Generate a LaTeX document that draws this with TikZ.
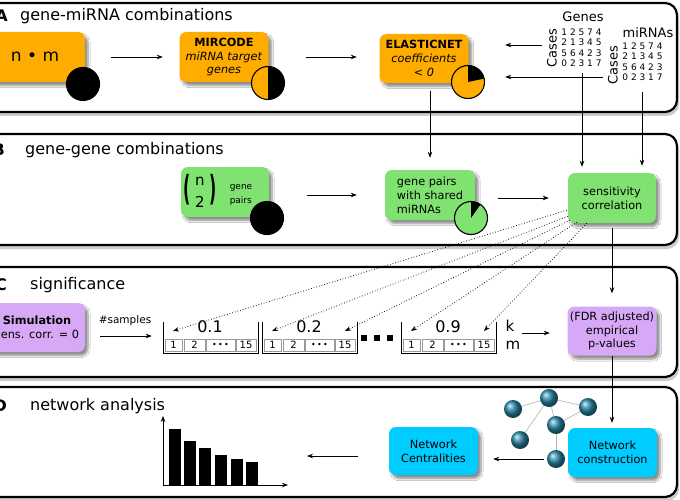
\documentclass[tikz,border=0pt]{standalone}
\usepackage{graphicx}
\usepackage{fontspec}
\setmainfont{DejaVu Sans}
\usetikzlibrary{arrows.meta,shadows.blur,calc}
\definecolor{orng}{RGB}{255,172,0}
\definecolor{grn}{RGB}{128,226,112}
\definecolor{purp}{RGB}{214,168,246}
\definecolor{cyn}{RGB}{0,204,255}
\definecolor{ballc}{RGB}{40,135,165}
\newcommand{\fs}[1]{\fontsize{#1}{#1}\selectfont}
\newcommand{\cellgrp}[3]{%
  \begin{scope}[shift={(#1,0)}]
    \draw[line width=0.8pt] (0,322) -- (0,353) -- (95,353) -- (95,322);
    \node[cellbox, minimum width=17pt] (#3c1) at (10.5,345) {1};
    \node[cellbox, minimum width=21pt] (#3c2) at (31.5,345) {2};
    \node[cellbox, minimum width=29pt] (#3c3) at (57.5,345) {\fs{8}•\,•\,•};
    \node[cellbox, minimum width=20pt] (#3c4) at (83,345) {15};
    \node[inner sep=0pt, font=\fs{16}] (#3l) at (47,327) {#2};
    \coordinate (#3a) at (10,331);
    \coordinate (#3b) at (83,331);
  \end{scope}}
\begin{document}
\begin{tikzpicture}[x=1pt,y=-1pt,
  box/.style={rounded corners=7pt, minimum width=89pt, minimum height=50pt, align=center, inner sep=1pt,
    font=\fontsize{11.3}{13.8}\selectfont,
    blur shadow={shadow xshift=3pt, shadow yshift=-3.5pt, shadow blur steps=6, shadow opacity=45}},
  obox/.style={box, fill=orng}, gbox/.style={box, fill=grn},
  pbox/.style={box, fill=purp}, cbox/.style={box, fill=cyn},
  piec/.style={circle, draw=black, line width=1.1pt, minimum size=33pt, inner sep=0pt},
  arr/.style={-{Stealth[length=6pt,width=4.5pt]}, line width=0.7pt},
  darr/.style={-{Stealth[length=6pt,width=4.5pt]}, line width=0.75pt, dotted},
  panel/.style={draw=black, line width=2.2pt, rounded corners=12pt, fill=white},
  pshadow/.style={fill=black!20, rounded corners=12pt},
  ttl/.style={anchor=west, inner sep=0pt, font=\fs{16}},
  plbl/.style={anchor=east, inner sep=0pt, font=\bfseries\fs{16}},
  cellbox/.style={draw=black!40, line width=0.5pt, minimum height=12pt, inner sep=0pt, font=\fs{10}},
  dig/.style={align=left, inner sep=0pt, font=\fontsize{9}{10.5}\selectfont},
  netball/.style={circle, shading=ball, ball color=ballc, minimum size=18pt, inner sep=0pt},
  netedge/.style={draw=black!30, line width=0.6pt},
  axis/.style={-{Stealth[length=6pt,width=4.5pt]}, line width=0.8pt},
  paren/.style={inner sep=0pt, font=\fs{15}},
]
\useasboundingbox (0,0) rectangle (680,500);
\clip (0,0) rectangle (680,500);
\fill[white] (0,0) rectangle (680,500);

% panels
\foreach \ya/\yb in {3/112, 134/245, 267/377, 387/497}{
  \fill[pshadow] (-20,\ya+4) rectangle (679,\yb+4);
  \draw[panel] (-20,\ya) rectangle (677,\yb);
}
\node[plbl] (lA) at (8,16) {A};
\node[ttl] (tA) at (20,16) {gene-miRNA combinations};
\node[plbl] (lB) at (5,150) {B};
\node[ttl] (tB) at (25,150) {gene-gene combinations};
\node[plbl] (lC) at (7,285) {C};
\node[ttl] (tC) at (30,285) {significance};
\node[plbl] (lD) at (7,406) {D};
\node[ttl] (tD) at (30,406) {network analysis};

% ---------- A ----------
\node[obox, minimum width=100pt, font=\fs{17}] (nm) at (35,57) {n • m};
\node[piec, fill=black] (c1) at (83,84) {};
\node[obox] (mir) at (224,57) {\textbf{MIRCODE}\\\textit{miRNA target}\\\textit{genes}};
\node[piec, fill=orng, path picture={\fill[black] (path picture bounding box.north) rectangle (path picture bounding box.south east);}] (c2) at (268,83) {};
\node[obox, minimum height=49pt] (ela) at (424,58.5) {\textbf{ELASTICNET}\\\textit{coefficients}\\\textit{< 0}};
\node[piec, fill=orng, path picture={\fill[black] (path picture bounding box.center) -- ++(12:20pt) arc[start angle=12, end angle=90, radius=20pt] -- cycle;}] (c3) at (468,82) {};

\node[inner sep=0pt, font=\fs{13}] (genes) at (583,17) {Genes};
\node[dig] (gmat) at (581.5,47.5) {1 2 5 7 4\\2 1 3 4 5\\5 6 4 2 3\\0 2 3 1 7};
\node[inner sep=0pt, font=\fs{13}, rotate=90] (gcases) at (552,48) {Cases};
\node[inner sep=0pt, font=\fs{13}] (mirnas) at (648,33) {miRNAs};
\node[dig] (mmat) at (642.5,61.5) {1 2 5 7 4\\2 1 3 4 5\\5 6 4 2 3\\0 2 3 1 7};
\node[inner sep=0pt, font=\fs{13}, rotate=90] (mcases) at (613,65) {Cases};

\coordinate (gA) at (542,45);
\coordinate (mA) at (603,77);
\coordinate (gB) at (582,73);
\coordinate (mB) at (642,92);

\draw[arr, shorten <=26pt, shorten >=16.5pt] (nm.east) -- (nm.east -| mir.west);
\draw[arr, shorten <=37.5pt, shorten >=22.5pt] (mir.east) -- (mir.east -| ela.west);
\draw[arr, shorten >=36.5pt] (gA) -- (gA -| ela.east);
\draw[arr, shorten >=36.5pt] (mA) -- (mA -| ela.east);

% ---------- B ----------
\node[gbox, minimum width=88pt] (n2) at (225,192) {};
\node[paren] (lp) at (187,190) {\scalebox{1.05}[2.3]{\bfseries (}};
\node[paren] (rp) at (213,190) {\scalebox{1.05}[2.3]{\bfseries )}};
\node[paren] (bn) at (200,181) {n};
\node[paren] (b2) at (200,202) {2};
\node[inner sep=0pt, align=left, font=\fontsize{9}{14.5}\selectfont] (gp) at (241,195) {gene\\pairs};
\node[piec, fill=black] (c4) at (267,218) {};
\node[gbox, minimum width=90pt, align=left] (shared) at (430,195) {gene pairs\\with shared\\miRNAs};
\node[piec, fill=grn, path picture={\fill[black] (path picture bounding box.center) -- ++(55:20pt) arc[start angle=55, end angle=90, radius=20pt] -- cycle;}] (c5) at (471,218) {};
\node[gbox, minimum width=88pt] (sens) at (612,198) {sensitivity\\correlation};

\draw[arr, shorten <=8pt, shorten >=12pt] (ela.south -| shared.north) -- (shared.north);
\draw[arr, shorten >=6pt] (gB) -- (gB |- sens.north);
\draw[arr, shorten >=7pt] (mB) -- (mB |- sens.north);
\draw[arr, shorten <=38pt, shorten >=28pt] ($(n2.east)+(0,3)$) -- ($(n2.east -| shared.west)+(0,3)$);
\draw[arr, shorten <=23pt, shorten >=19pt] (sens.west -| shared.east) -- (sens.west);

% ---------- C ----------
\node[pbox, minimum width=96pt, minimum height=49pt] (sim) at (37,327.5) {\textbf{Simulation}\\sens. corr. = 0};
\node[inner sep=0pt, font=\fs{10.5}] (samples) at (125,321) {\#samples};
\cellgrp{163}{0.1}{ga}
\cellgrp{262}{0.2}{gb}
\cellgrp{401}{0.9}{gc}
\foreach \xx in {364,377,390} \fill (\xx-2.6,335.4) rectangle (\xx+2.6,340.6);
\node[inner sep=0pt, align=left, font=\fontsize{15}{18}\selectfont] (km) at (513,335) {k\\m};
\node[pbox, minimum height=49pt] (fdr) at (612,331) {(FDR adjusted)\\empirical\\p-values};

\coordinate (simout) at (100,336);
\coordinate (kout) at (522,333);
\draw[arr, shorten >=13pt] (simout) -- (simout -| gac1.west);
\draw[arr, shorten >=17.5pt] (kout) -- (kout -| fdr.west);
\draw[arr, shorten <=5pt, shorten >=13pt] (sens.south) -- (fdr.north);

\coordinate (s1) at ($(sens.south west)+(-1,-13)$);
\coordinate (s2) at ($(sens.south west)+(0,-7)$);
\coordinate (s3) at ($(sens.south west)+(2,-3)$);
\coordinate (s4) at ($(sens.south west)+(9,-1)$);
\coordinate (s5) at ($(sens.south west)+(19,0)$);
\draw[darr] (s1) -- (gaa);
\draw[darr] (s2) -- (gba);
\draw[darr] (s3) -- (gbb);
\draw[darr] (s4) -- (gca);
\draw[darr] (s5) -- (gcb);

% ---------- D ----------
\node[cbox, minimum height=48pt] (nc) at (433.5,451) {Network\\Centralities};
\node[cbox, minimum height=49pt] (netcon) at (612.5,452.5) {Network\\construction};
\coordinate (e1) at (513,409);
\coordinate (e2) at (549,398);
\coordinate (e3) at (588,407);
\coordinate (e4) at (556,425);
\coordinate (e5) at (520,440);
\coordinate (e6) at (556,459);
\draw[netedge] (e1) -- (e2);
\draw[netedge] (e2) -- (e3);
\draw[netedge] (e2) -- (e4);
\draw[netedge] (e2) -- (e5);
\draw[netedge] (e4) -- (e6);
\draw[netedge] (e4) -- (e3);
\node[netball] (b1) at (e1) {};
\node[netball] (b2b) at (e2) {};
\node[netball] (b3) at (e3) {};
\node[netball] (b4) at (e4) {};
\node[netball] (b5) at (e5) {};
\node[netball] (b6) at (e6) {};

\draw[arr, shorten >=5pt] (fdr.south) -- (fdr.south |- netcon.north);
\draw[arr, shorten <=3pt, shorten >=15pt] (b6.west) -- (b6.west -| nc.east);

\coordinate (chartR) at (307,456);
\coordinate (origin) at (163,485);
\draw[arr, shorten <=31pt] (nc.west |- chartR) -- (chartR);
\draw[axis] (origin) -- ++(0,-69);
\draw[axis] (origin) -- ++(125,0);
\foreach \xx/\tt in {169/429, 184/441, 199/448, 215/455, 231/459, 246/462}
  \fill (\xx,\tt) rectangle (\xx+11.5,485);
\end{tikzpicture}
\end{document}
